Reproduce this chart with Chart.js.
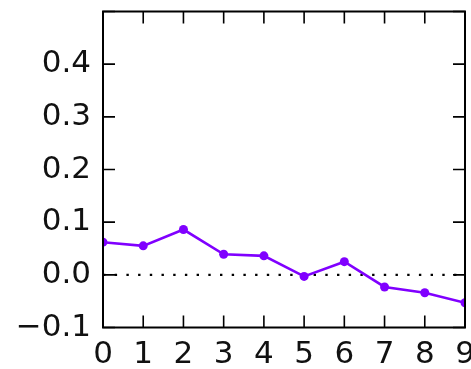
<!DOCTYPE html>
<html>
<head>
<meta charset="utf-8">
<script src="https://cdn.jsdelivr.net/npm/chart.js@4"></script>
<style>
  html, body { margin: 0; padding: 0; background: #fff; overflow: hidden; }
  #wrap { width: 471px; height: 369px; }
</style>
</head>
<body>
<div id="wrap"><canvas id="c" width="471" height="369"></canvas></div>
<script>
// x positions and the measured series
const steps = [0, 1, 2, 3, 4, 5, 6, 7, 8, 9];
const seriesValues = [0.062, 0.055, 0.086, 0.039, 0.036, -0.003, 0.025, -0.023, -0.034, -0.053];
const baselineValues = [0, 0, 0, 0, 0, 0, 0, 0, 0, 0];
const yTickValues = [-0.1, 0.0, 0.1, 0.2, 0.3, 0.4, 0.5];

const FONT = { family: "'DejaVu Sans', sans-serif", size: 31 };

// Frame around the plot plus inward-pointing ticks on all four sides
const framePlugin = {
  id: 'frame',
  afterDatasetsDraw(chart) {
    const { ctx, chartArea: { left, right, top, bottom }, scales: { x, y } } = chart;
    const L = 12;
    ctx.save();
    ctx.strokeStyle = '#000';
    ctx.lineWidth = 1.6;
    ctx.beginPath();
    x.ticks.forEach(t => {
      const px = x.getPixelForValue(t.value);
      ctx.moveTo(px, bottom); ctx.lineTo(px, bottom - L);
      ctx.moveTo(px, top); ctx.lineTo(px, top + L);
    });
    y.ticks.forEach(t => {
      const py = y.getPixelForValue(t.value);
      ctx.moveTo(left, py); ctx.lineTo(left + L, py);
      ctx.moveTo(right, py); ctx.lineTo(right - L, py);
    });
    ctx.stroke();
    ctx.lineWidth = 2;
    ctx.strokeRect(left, top, right - left, bottom - top);
    ctx.restore();
  }
};

new Chart(document.getElementById('c'), {
  type: 'line',
  data: {
    datasets: [
      {
        data: steps.map((s, i) => ({ x: s, y: seriesValues[i] })),
        borderColor: '#8000ff',
        backgroundColor: '#8000ff',
        borderWidth: 2.6,
        pointRadius: 4.5,
        pointBorderWidth: 0,
        tension: 0,
        clip: 0,
        order: 1
      },
      {
        data: steps.map((s, i) => ({ x: s, y: baselineValues[i] })),
        borderColor: '#000',
        borderWidth: 2.4,
        borderDash: [2.4, 9.3],
        borderCapStyle: 'butt',
        pointRadius: 0,
        tension: 0,
        clip: 0,
        order: 2
      }
    ]
  },
  options: {
    responsive: false,
    animation: false,
    layout: { padding: { top: 11.5, right: 6, left: 0, bottom: 0 } },
    plugins: { legend: { display: false }, tooltip: { enabled: false } },
    scales: {
      x: {
        type: 'linear',
        min: 0, max: 9,
        grid: { display: false },
        border: { display: false },
        ticks: {
          stepSize: 1,
          color: '#111',
          font: FONT,
          padding: 1,
          maxRotation: 0,
          autoSkip: false
        },
        afterFit(scale) {
          scale.height = 41.5;
          scale.paddingLeft = 0;
          scale.paddingRight = 0;
        }
      },
      y: {
        min: -0.1, max: 0.5,
        grid: { display: false },
        border: { display: false },
        afterBuildTicks(scale) {
          scale.ticks = yTickValues.map(v => ({ value: v }));
        },
        ticks: {
          color: '#111',
          font: FONT,
          padding: 4,
          callback(v) {
            if (Math.abs(v - 0.5) < 1e-9) return '';
            return v.toFixed(1).replace('-', '\u2212');
          }
        },
        afterFit(scale) {
          scale.width = 103;
          scale.paddingTop = 0;
          scale.paddingBottom = 0;
        }
      }
    }
  },
  plugins: [framePlugin]
});
</script>
</body>
</html>
